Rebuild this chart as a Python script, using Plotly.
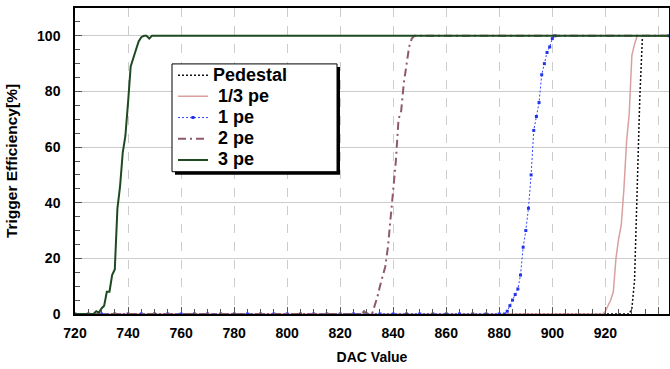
import plotly.graph_objects as go

# ---- data ----
ped_x = [720, 929, 930, 931, 932, 933, 934, 944]
ped_y = [0, 0, 2, 12, 45, 78, 100, 100]

third_x = [720, 919, 920, 921, 922, 923, 924, 925, 926, 927, 928, 929, 930, 931, 932, 944]
third_y = [0, 0, 1, 3, 5, 8, 20, 27, 32, 45, 62, 72, 93, 97, 100, 100]

one_x = [720, 725, 730, 735, 740, 745, 750, 755, 760, 765, 770, 775, 780, 785, 790, 795,
         800, 805, 810, 815, 820, 825, 830, 835, 840, 845, 850, 855, 860, 865, 870, 875,
         880, 882, 883, 884, 885, 886, 887, 888, 889, 890, 891, 892, 893, 894, 895, 896,
         897, 898, 899, 900, 901, 944]
one_y = [0] * 34 + [1, 3, 5, 7, 9, 14, 24, 30, 38, 50, 66, 71, 76, 86,
                    90, 94, 96, 99, 100, 100]

two_x = [720, 828, 829, 830, 831, 832, 833, 834, 835, 836, 837, 838, 839, 840, 841, 842,
         843, 844, 845, 846, 847, 848, 944]
two_y = [0, 0, 1, 0, 0, 0, 3, 6, 10, 14, 17, 24, 34, 44, 55, 70,
         73, 83, 90, 96, 99, 100, 100]

three_x = [720, 727, 728, 729, 730, 731, 732, 733, 734, 735, 736, 737, 738, 739, 740,
           741, 742, 743, 744, 745, 746, 747, 748, 749, 944]
three_y = [0, 0, 1, 0.5, 2, 3, 8, 8, 14, 16, 38, 46, 58, 64, 76,
           89, 92, 95, 98, 99.5, 100, 100, 99, 100, 100]

names = ["Pedestal", "\u00a01/3 pe", "\u00a01 pe", "\u00a02 pe", "\u00a03 pe"]


def legend_label(text):
    return '<span style="font-size:18px">' + text + "</span>"


fig = go.Figure()
fig.add_trace(go.Scatter(x=ped_x, y=ped_y, name=legend_label(names[0]), mode="lines",
                         line=dict(color="#111111", width=1.5, dash="2px,2px")))
fig.add_trace(go.Scatter(x=third_x, y=third_y, name=legend_label(names[1]), mode="lines",
                         line=dict(color="#D9A0A0", width=1.5)))
fig.add_trace(go.Scatter(x=one_x, y=one_y, name=legend_label(names[2]), mode="lines+markers",
                         line=dict(color="#3344FF", width=1, dash="2px,2px"),
                         marker=dict(symbol="square", size=3, color="#2233EE")))
fig.add_trace(go.Scatter(x=two_x, y=two_y, name=legend_label(names[3]), mode="lines",
                         line=dict(color="#8E5A68", width=2, dash="8px,4px,2px,4px")))
fig.add_trace(go.Scatter(x=three_x, y=three_y, name=legend_label(names[4]), mode="lines",
                         line=dict(color="#1E4A22", width=2)))

font_family = "Liberation Sans, Arial, sans-serif"

# plot area in pixels: x 75..669, y 8..314.5
PW, PH = 594.0, 306.5


def px_to_paper(px, py):
    return (px - 75) / PW, (314.5 - py) / PH


# legend frame and its shadow
bx0, by0 = px_to_paper(172, 64)
bx1, by1 = px_to_paper(337, 172)
sx0, sy0 = px_to_paper(175, 67)
sx1, sy1 = px_to_paper(340, 175)

fig.update_layout(
    width=670, height=369,
    margin=dict(l=75, r=1, t=8, b=55, autoexpand=False),
    paper_bgcolor="white", plot_bgcolor="white",
    font=dict(family=font_family, color="black"),
    showlegend=True,
    legend=dict(x=0.165, y=0.8315, xanchor="left", yanchor="top",
                bgcolor="rgba(0,0,0,0)", borderwidth=0,
                font=dict(size=14, weight="bold", family=font_family),
                tracegroupgap=0, itemwidth=30),
    shapes=[
        dict(type="rect", xref="paper", yref="paper",
             x0=sx0, x1=sx1, y0=sy1, y1=sy0,
             fillcolor="black", line=dict(width=0), layer="above"),
        dict(type="rect", xref="paper", yref="paper",
             x0=bx0, x1=bx1, y0=by1, y1=by0,
             fillcolor="white", line=dict(width=1, color="black"), layer="above"),
    ],
)

fig.update_xaxes(
    range=[720, 944], dtick=20, tick0=720,
    showline=True, linecolor="black", linewidth=1.5, mirror=True,
    ticks="inside", ticklen=7, tickcolor="#555555",
    showgrid=True, gridcolor="#CCCCCC", griddash="dash", gridwidth=1,
    tickfont=dict(size=14, weight="bold"), ticklabelstandoff=5,
    minor=dict(dtick=5, ticks="inside", ticklen=5, tickcolor="#555555", showgrid=False),
    title=dict(text="DAC Value", font=dict(size=14, weight="bold"), standoff=13),
    zeroline=False,
)
fig.update_yaxes(
    range=[0, 110], dtick=20, tick0=0,
    showline=True, linecolor="black", linewidth=1.5, mirror=True,
    ticks="inside", ticklen=7, tickcolor="#555555",
    showgrid=True, gridcolor="#CCCCCC", gridwidth=1,
    tickfont=dict(size=14, weight="bold"), ticklabelstandoff=10,
    minor=dict(dtick=5, ticks="inside", ticklen=5, tickcolor="#555555", showgrid=False),
    title=dict(text="Trigger Efficiency[%]" + "\u00a0" * 4,
               font=dict(size=15.5, weight="bold"), standoff=16),
    zeroline=False,
)

fig.write_html("out.html")
